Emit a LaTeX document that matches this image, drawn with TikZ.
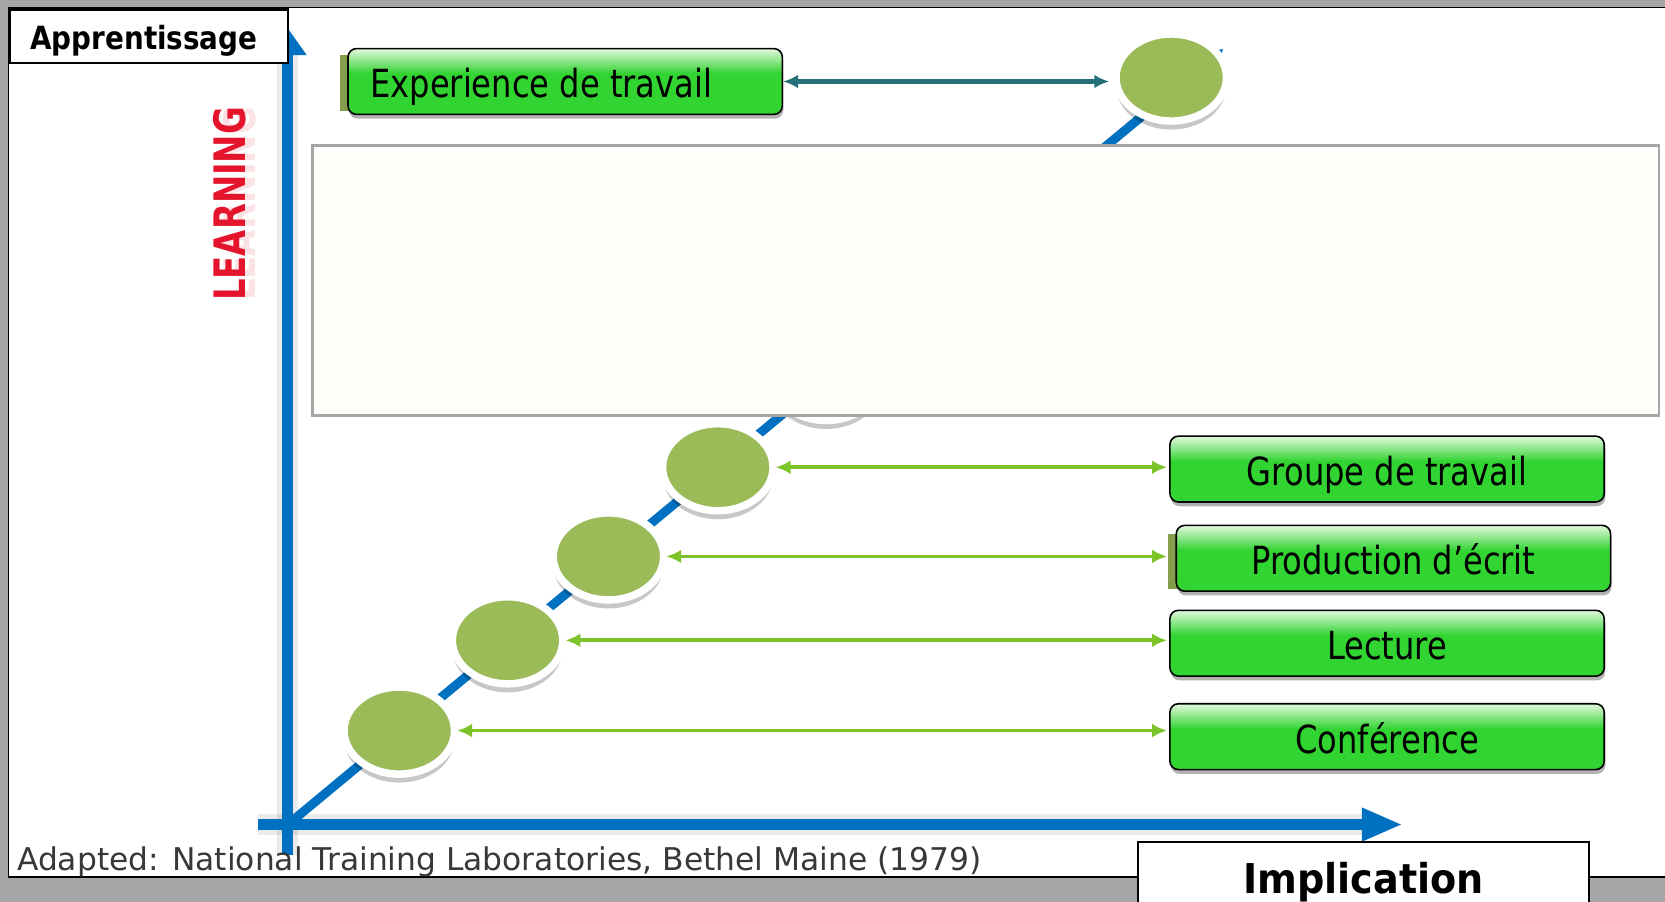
\documentclass[tikz,border=0pt]{standalone}
\usepackage{fontspec}
\setmainfont{DejaVu Sans}
\usetikzlibrary{arrows.meta,shapes.geometric,shadows}
\definecolor{bggray}{HTML}{A6A6A6}
\definecolor{axisblue}{HTML}{0070C0}
\definecolor{dotgreen}{HTML}{9BBB59}
\definecolor{boxgreen}{HTML}{31D431}
\definecolor{boxlight}{HTML}{E2F9DD}
\definecolor{arrgreen}{HTML}{7DC42A}
\definecolor{expteal}{HTML}{25707A}
\definecolor{learnred}{HTML}{E3142B}
\definecolor{coverfill}{HTML}{FEFEFA}
\definecolor{covergray}{HTML}{A6A6A6}
\pgfdeclareverticalshading{boxshade}{100bp}{color(0bp)=(boxgreen); color(25bp)=(boxgreen); color(56bp)=(boxgreen); color(75bp)=(boxlight); color(100bp)=(boxlight)}
\begin{document}
\begin{tikzpicture}[x=1bp,y=-1bp,
  axisline/.style={draw=axisblue, line width=10bp},
  axishalo/.style={draw=black, opacity=0.08, line width=20bp},
  dot/.style={ellipse, fill=dotgreen, draw=white, line width=7bp, minimum width=104bp, minimum height=82bp, inner sep=0pt,
    drop shadow={shadow xshift=0bp, shadow yshift=-8bp, opacity=0.22, fill=black}},
  greenbox/.style={rounded corners=8bp, draw=black, line width=1.5bp, shade, shading=boxshade,
    minimum width=409bp, minimum height=62bp, inner sep=0pt, text height=31bp, text depth=0pt,
    font=\fontsize{36.6}{40}\selectfont, anchor=north west,
    drop shadow={shadow xshift=1bp, shadow yshift=-4bp, opacity=0.3, fill=black}},
  strip/.style={fill=dotgreen!85!black},
  garrow/.style={draw=arrgreen, line width=3.5bp, {Latex[length=14bp,width=13bp]}-{Latex[length=14bp,width=13bp]}},
  earrow/.style={draw=expteal, line width=4.5bp, {Latex[length=14bp,width=13bp]}-{Latex[length=14bp,width=13bp]}},
  labelbox/.style={draw=black, fill=white, line width=2bp, inner sep=0pt, font=\bfseries}
]
\clip (0,0) rectangle (1568,849);
\fill[bggray] (0,0) rectangle (1568,849);
\draw[fill=white, line width=1.5bp] (8,7) rectangle (1580,826);

% axes
\coordinate (O) at (271,776.5);
\coordinate (ybot) at (271,805);
\coordinate (ytop) at (271,26.5);
\coordinate (xleft) at (243,776.5);
\coordinate (xright) at (1321,776.5);
\coordinate (dtip) at (1152,46);
\draw[axishalo] (ybot) -- (271,50);
\draw[axishalo] (xleft) -- (1290,776.5);
\draw[axisline, -{Triangle[length=25.5bp,width=34bp]}] (ybot) -- (ytop);
\draw[axisline, -{Triangle[length=38.5bp,width=29bp]}] (xleft) -- (xright);
\draw[axisline, line width=8.5bp, -{Triangle[length=20bp,width=22bp]}] (O) -- (dtip);

% circles
\node[dot] (c1) at (376,688) {};
\node[dot] (c2) at (478,603) {};
\node[dot] (c3) at (573,524) {};
\node[dot] (c4) at (676,440) {};
\node[dot] (c5) at (778,355) {};
\node[dot] (c6) at (1103,73) {};

% cover
\node[draw=covergray, fill=coverfill, line width=2.5bp, minimum width=1268bp, minimum height=254bp, inner sep=0pt, anchor=north west] (cover) at (293,136) {};

% boxes
\fill[strip] (320,52) rectangle (335,105);
\node[greenbox, inner xsep=21bp] (exp) at (327,45) {\makebox[367bp][l]{\scalebox{0.83}[1]{Experience de travail}}};
\node[greenbox] (grp) at (1101,410) {\scalebox{0.83}[1]{Groupe de travail}};
\fill[strip] (1100,503) rectangle (1115,555);
\node[greenbox] (prod) at (1107,494) {\scalebox{0.83}[1]{Production d’écrit}};
\node[greenbox] (lect) at (1101,574) {\scalebox{0.83}[1]{Lecture}};
\node[greenbox] (conf) at (1101,662) {\scalebox{0.83}[1]{Conférence}};

% arrows
\draw[earrow, shorten >=3bp] (exp.east) -- (exp.east -| c6.west);
\draw[garrow, shorten <=-1bp, shorten >=2bp] (c1.east) -- (c1.east -| conf.west);
\draw[garrow, shorten <=-1bp, shorten >=2bp] (c2.east) -- (c2.east -| lect.west);
\draw[garrow, shorten <=-1bp, shorten >=2bp] (c3.east) -- (c3.east -| grp.west);
\draw[garrow, shorten <=-1bp, shorten >=2bp] (c4.east) -- (c4.east -| grp.west);

% labels
\node[labelbox, minimum width=262bp, minimum height=50bp, text height=25bp, text depth=0pt, font=\bfseries\fontsize{30.2}{34}\selectfont, anchor=north west] (app) at (8,8) {\scalebox{0.87}[1]{Apprentissage}\hspace*{9bp}};
\node[labelbox, minimum width=424bp, minimum height=80bp, text height=16bp, text depth=0pt, font=\bfseries\fontsize{38.8}{42}\selectfont, anchor=north west] (impl) at (1071,792) {\scalebox{0.93}[1]{Implication}};
\node[anchor=base west, inner sep=0pt, font=\fontsize{29.6}{32}\selectfont, text=black!78] (src) at (16,820) {Adapted: National Training Laboratories, Bethel Maine (1979)};
\node[rotate=90, inner sep=0pt, font=\bfseries\fontsize{41}{44}\selectfont, text=learnred, opacity=0.12] (learnghost) at (226,192) {\scalebox{0.78}[1]{LEARNING}};
\node[rotate=90, inner sep=0pt, font=\bfseries\fontsize{41}{44}\selectfont, text=learnred] (learn) at (216,192) {\scalebox{0.78}[1]{LEARNING}};
\end{tikzpicture}
\end{document}
